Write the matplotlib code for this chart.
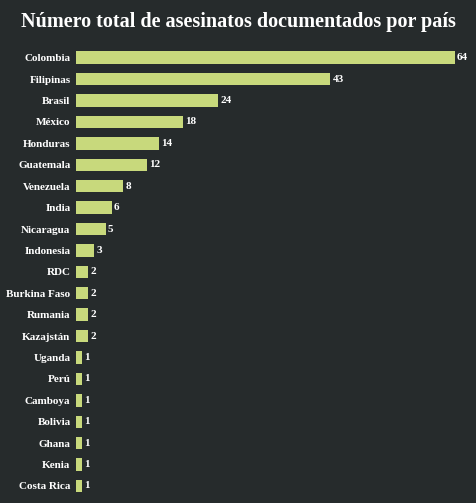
import matplotlib
matplotlib.use("Agg")
import matplotlib.pyplot as plt

countries = ["Colombia","Filipinas","Brasil","México","Honduras","Guatemala","Venezuela","India",
             "Nicaragua","Indonesia","RDC","Burkina Faso","Rumania","Kazajstán","Uganda","Perú",
             "Camboya","Bolivia","Ghana","Kenia","Costa Rica"]
values = [64,43,24,18,14,12,8,6,5,3,2,2,2,2,1,1,1,1,1,1,1]

bg = "#262b2c"
fam = "Liberation Serif"
fig = plt.figure(figsize=(4.76,5.03), dpi=100, facecolor=bg)
ax = fig.add_axes([76/476, 1-496.7/503, 1-76/476, (496.7-47)/503])
ax.set_facecolor(bg)
y = list(range(len(countries)))
ax.barh(y, values, height=0.58, color="#c8d97c")
ax.set_ylim(len(countries)-0.5, -0.5)
ax.set_xlim(0, 67.6)
ax.set_yticks(y)
ax.set_yticklabels(countries, fontsize=8, fontweight="bold", color="white", family=fam)
ax.tick_params(axis="y", length=0, pad=4)
ax.set_xticks([])
for s in ax.spines.values():
    s.set_visible(False)
for yi, v in zip(y, values):
    ax.text(v+0.4, yi, str(v), va="center", ha="left", fontsize=8, fontweight="bold",
            color="white", family=fam)
fig.text(0.5, 1-22/503, "Número total de asesinatos documentados por país", ha="center", va="center",
         fontsize=14.5, fontweight="bold", color="white", family=fam)
fig.savefig("out.png", dpi=100, facecolor=bg)
